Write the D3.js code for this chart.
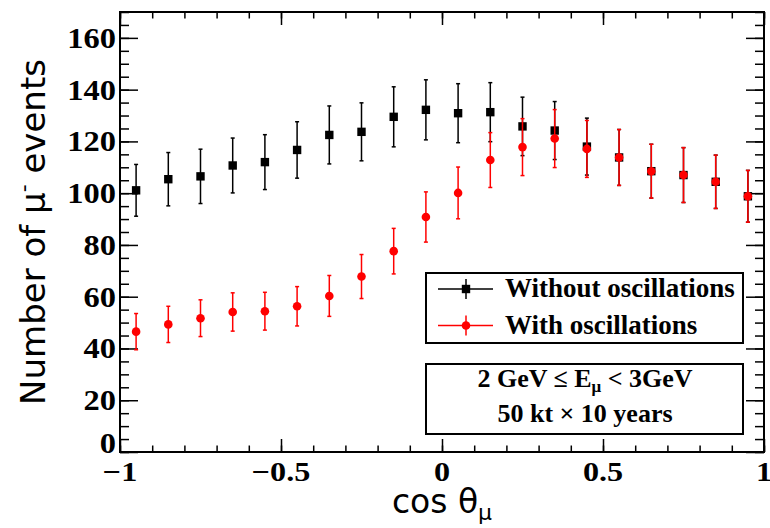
<!DOCTYPE html>
<html>
<head>
<meta charset="utf-8">
<script src="https://cdn.jsdelivr.net/npm/d3@7"></script>
<style>
  body { margin: 0; background: #fff; }
  svg { display: block; }
</style>
</head>
<body>
<div class="chart"></div>
<script>
// bin centres in cos(theta_mu)
var binCenters = [-0.95, -0.85, -0.75, -0.65, -0.55, -0.45, -0.35, -0.25, -0.15, -0.05,
                  0.05, 0.15, 0.25, 0.35, 0.45, 0.55, 0.65, 0.75, 0.85, 0.95];

// without oscillations (black squares)
var noOscValues = [101.1, 105.4, 106.5, 110.7, 112.0, 116.7, 122.5, 123.7, 129.5, 132.2,
                   130.9, 131.3, 125.8, 124.2, 118.0, 113.8, 108.5, 107.0, 104.4, 98.8];
var noOscErrors = [10.0, 10.3, 10.5, 10.6, 10.6, 10.9, 11.2, 11.2, 11.6, 11.6,
                   11.4, 11.4, 11.3, 11.2, 11.0, 10.8, 10.4, 10.6, 10.3, 10.0];

// with oscillations (red circles)
var oscValues = [46.5, 49.3, 51.7, 54.1, 54.4, 56.3, 60.3, 67.8, 77.6, 90.8,
                 100.1, 112.8, 117.8, 121.1, 117.1, 113.8, 108.5, 107.0, 104.4, 98.8];
var oscErrors = [7.0, 7.0, 7.1, 7.4, 7.3, 7.6, 7.9, 8.5, 8.8, 9.7,
                 10.0, 10.6, 11.0, 11.2, 11.0, 10.8, 10.4, 10.6, 10.3, 10.0];

var seriesNames = ["Without oscillations", "With oscillations"];

var xTicks = [-1, -0.5, 0, 0.5, 1];
var xTickLabels = ["\u22121", "\u22120.5", "0", "0.5", "1"];
var yTicks = [0, 20, 40, 60, 80, 100, 120, 140, 160];
var yTickLabels = ["0", "20", "40", "60", "80", "100", "120", "140", "160"];

var svgWidth = 770;
var svgHeight = 528;

var margin = {
  top: 12,
  bottom: 76,
  right: 6,
  left: 120
};

var width = svgWidth - margin.left - margin.right;
var height = svgHeight - margin.top - margin.bottom;

var serif = "'Liberation Serif', 'Times New Roman', serif";
var sans = "'DejaVu Sans', sans-serif";

var svg = d3.select(".chart")
  .append("svg")
  .attr("width", svgWidth)
  .attr("height", svgHeight);

var chartGroup = svg.append("g")
  .attr("transform", `translate(${margin.left}, ${margin.top})`);

// scales
var xScale = d3.scaleLinear().domain([-1, 1]).range([0, width]);
var yScale = d3.scaleLinear().domain([0, 170]).range([height, 0]);

// ticks on all four sides, pointing inwards (ROOT style)
function styleAxis(g) {
  g.select(".domain").remove();
  g.selectAll("line").attr("stroke", "#000").attr("stroke-width", 1.5);
}

var xMinor = d3.range(-1, 1.001, 0.1);
var yMinor = d3.range(0, 171, 5);

chartGroup.append("g").attr("transform", `translate(0, ${height})`)
  .call(d3.axisBottom(xScale).tickValues(xMinor).tickSize(-6.5).tickFormat("")).call(styleAxis);
chartGroup.append("g").attr("transform", `translate(0, ${height})`)
  .call(d3.axisBottom(xScale).tickValues(xTicks).tickSize(-13).tickFormat("")).call(styleAxis);
chartGroup.append("g")
  .call(d3.axisTop(xScale).tickValues(xMinor).tickSize(-6.5).tickFormat("")).call(styleAxis);
chartGroup.append("g")
  .call(d3.axisTop(xScale).tickValues(xTicks).tickSize(-13).tickFormat("")).call(styleAxis);

chartGroup.append("g")
  .call(d3.axisLeft(yScale).tickValues(yMinor).tickSize(-9).tickFormat("")).call(styleAxis);
chartGroup.append("g")
  .call(d3.axisLeft(yScale).tickValues(yTicks).tickSize(-18).tickFormat("")).call(styleAxis);
chartGroup.append("g").attr("transform", `translate(${width}, 0)`)
  .call(d3.axisRight(yScale).tickValues(yMinor).tickSize(-9).tickFormat("")).call(styleAxis);
chartGroup.append("g").attr("transform", `translate(${width}, 0)`)
  .call(d3.axisRight(yScale).tickValues(yTicks).tickSize(-18).tickFormat("")).call(styleAxis);

// frame
chartGroup.append("rect")
  .attr("x", 0).attr("y", 0)
  .attr("width", width).attr("height", height)
  .attr("fill", "none")
  .attr("stroke", "#000")
  .attr("stroke-width", 2);

// tick labels (bold serif, a bit wider than normal like the original)
chartGroup.append("g").selectAll("text")
  .data(xTicks)
  .enter()
  .append("text")
  .attr("transform", d => `translate(${xScale(d)}, ${height + 28.5}) scale(1.15, 1)`)
  .attr("text-anchor", "middle")
  .attr("font-family", serif)
  .attr("font-weight", "bold")
  .attr("font-size", 28)
  .text((d, i) => xTickLabels[i]);

chartGroup.append("g").selectAll("text")
  .data(yTicks)
  .enter()
  .append("text")
  .attr("transform", d => `translate(-4, ${yScale(d) - (d === 0 ? 9 : 0)}) scale(1.12, 1)`)
  .attr("dy", "0.34em")
  .attr("text-anchor", "end")
  .attr("font-family", serif)
  .attr("font-weight", "bold")
  .attr("font-size", 29)
  .text((d, i) => yTickLabels[i]);

// data: error bars + markers
var series = [
  {values: noOscValues, errors: noOscErrors, color: "#000", marker: "square"},
  {values: oscValues, errors: oscErrors, color: "#ff0000", marker: "circle"}
];

series.forEach(function(s) {
  var pts = binCenters.map((c, i) => ({x: c, v: s.values[i], e: s.errors[i]}));
  var g = chartGroup.append("g");

  g.selectAll("line.bar")
    .data(pts)
    .enter()
    .append("line")
    .attr("x1", d => xScale(d.x)).attr("x2", d => xScale(d.x))
    .attr("y1", d => yScale(d.v - d.e)).attr("y2", d => yScale(d.v + d.e))
    .attr("stroke", s.color).attr("stroke-width", 1.5);

  [-1, 1].forEach(function(sign) {
    g.selectAll("line.cap" + sign)
      .data(pts)
      .enter()
      .append("line")
      .attr("x1", d => xScale(d.x) - 2).attr("x2", d => xScale(d.x) + 2)
      .attr("y1", d => yScale(d.v + sign * d.e)).attr("y2", d => yScale(d.v + sign * d.e))
      .attr("stroke", s.color).attr("stroke-width", 1.5);
  });

  if (s.marker === "square") {
    g.selectAll("rect")
      .data(pts)
      .enter()
      .append("rect")
      .attr("x", d => xScale(d.x) - 4.2).attr("y", d => yScale(d.v) - 4.2)
      .attr("width", 8.4).attr("height", 8.4)
      .attr("fill", s.color);
  } else {
    g.selectAll("circle")
      .data(pts)
      .enter()
      .append("circle")
      .attr("cx", d => xScale(d.x)).attr("cy", d => yScale(d.v))
      .attr("r", 4.3)
      .attr("fill", s.color);
  }
});

// axis titles
var yTitle = svg.append("text")
  .attr("text-anchor", "middle")
  .attr("transform", "translate(45," + (margin.top + height / 2) + ")rotate(-90)")
  .attr("font-family", sans)
  .attr("font-size", 34);
yTitle.append("tspan").text("Number of \u03bc");
yTitle.append("tspan").attr("font-size", 22).attr("dy", -14).text("-");
yTitle.append("tspan").attr("dy", 14).text(" events");

var xTitle = svg.append("text")
  .attr("text-anchor", "middle")
  .attr("x", margin.left + width / 2)
  .attr("y", 513)
  .attr("font-family", sans)
  .attr("font-size", 33);
xTitle.append("tspan").text("cos \u03b8");
xTitle.append("tspan").attr("font-size", 22).attr("dy", 7).text("\u03bc");

// legend
var legend = svg.append("g");
legend.append("rect")
  .attr("x", 426).attr("y", 273)
  .attr("width", 317).attr("height", 70)
  .attr("fill", "#fff")
  .attr("stroke", "#000")
  .attr("stroke-width", 2);

var legendRows = [289, 325.5];
series.forEach(function(s, i) {
  var ly = legendRows[i];
  legend.append("line")
    .attr("x1", 438).attr("x2", 493).attr("y1", ly).attr("y2", ly)
    .attr("stroke", s.color).attr("stroke-width", 1.5);
  legend.append("line")
    .attr("x1", 466).attr("x2", 466).attr("y1", ly - 10).attr("y2", ly + 10)
    .attr("stroke", s.color).attr("stroke-width", 1.5);
  if (s.marker === "square") {
    legend.append("rect")
      .attr("x", 466 - 4.2).attr("y", ly - 4.2)
      .attr("width", 8.4).attr("height", 8.4)
      .attr("fill", s.color);
  } else {
    legend.append("circle")
      .attr("cx", 466).attr("cy", ly).attr("r", 4.3)
      .attr("fill", s.color);
  }
  legend.append("text")
    .attr("x", 505).attr("y", ly + 8)
    .attr("font-family", serif)
    .attr("font-weight", "bold")
    .attr("font-size", 27)
    .text(seriesNames[i]);
});

// info box
var info = svg.append("g");
info.append("rect")
  .attr("x", 426).attr("y", 364)
  .attr("width", 317).attr("height", 70)
  .attr("fill", "#fff")
  .attr("stroke", "#000")
  .attr("stroke-width", 2);

var line1 = info.append("text")
  .attr("x", 585).attr("y", 387)
  .attr("text-anchor", "middle")
  .attr("font-family", serif)
  .attr("font-weight", "bold")
  .attr("font-size", 26);
line1.append("tspan").text("2 GeV  \u2264 E");
line1.append("tspan").attr("font-size", 17).attr("dy", 5).text("\u03bc");
line1.append("tspan").attr("dy", -5).text(" < 3GeV");

info.append("text")
  .attr("x", 585).attr("y", 422)
  .attr("text-anchor", "middle")
  .attr("font-family", serif)
  .attr("font-weight", "bold")
  .attr("font-size", 26)
  .text("50 kt  \u00d7 10 years");
</script>
</body>
</html>
